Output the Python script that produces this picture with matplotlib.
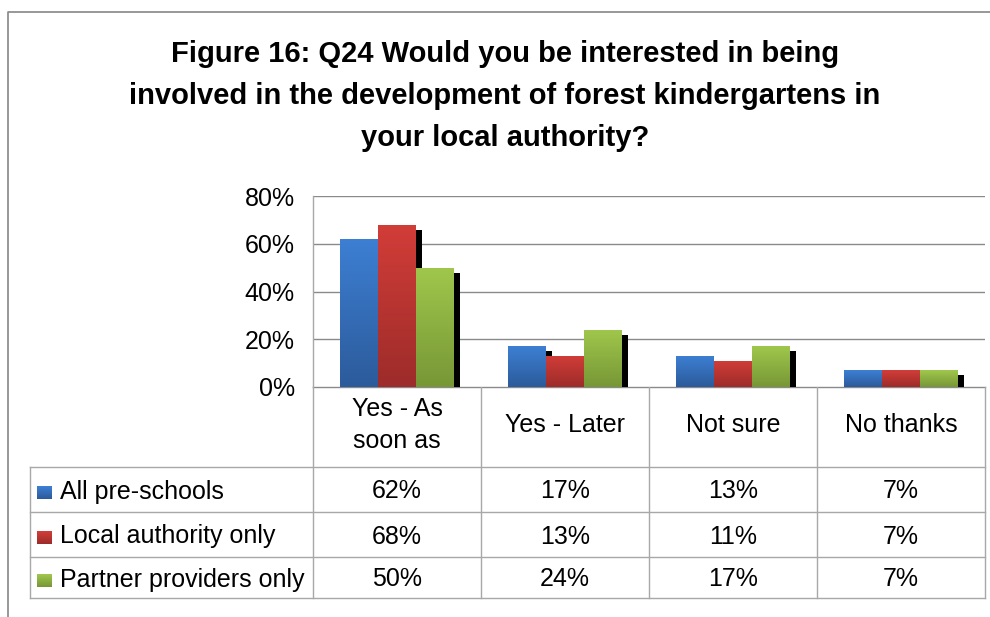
import matplotlib.pyplot as plt
import matplotlib.transforms as mtransforms
from matplotlib.colors import LinearSegmentedColormap
import numpy as np

plt.rcParams['font.family'] = ['Liberation Sans', 'DejaVu Sans']

TITLE_LINES = ['Figure 16: Q24 Would you be interested in being',
               'involved in the development of forest kindergartens in',
               'your local authority?']
CATEGORIES = ['Yes - As\nsoon as', 'Yes - Later', 'Not sure', 'No thanks']
SERIES = ['All pre-schools', 'Local authority only', 'Partner providers only']
ALL_PRESCHOOLS = [62, 17, 13, 7]
LA_ONLY = [68, 13, 11, 7]
PARTNER_ONLY = [50, 24, 17, 7]
Y_TICKS = [0, 20, 40, 60, 80]

# top / bottom colours for the bar gradients
GRADIENTS = [('#3d7fd3', '#2c5b9b'),
             ('#d23d38', '#9d2c2a'),
             ('#a0c74c', '#779736')]
GRID = '#8a8a8a'
LINE = '#a8a8a8'

W, H = 990, 617
fig = plt.figure(figsize=(W / 100, H / 100), dpi=100)

# pixel layout of the plot area and table
px_left, px_right, px_top, px_base = 313, 985, 196, 387
legend_left = 30
row_edges = [467, 512, 557, 598]


def fx(x):
    return x / W


def fy(y):
    return 1 - y / H


ax = fig.add_axes([fx(px_left), fy(px_base), fx(px_right - px_left),
                   (px_base - px_top) / H])
ax.set_xlim(0, len(CATEGORIES))
ax.set_ylim(0, 80)
for s in ['top', 'right', 'bottom']:
    ax.spines[s].set_visible(False)
ax.spines['left'].set_color(LINE)
ax.spines['left'].set_linewidth(1.0)
ax.set_yticks(Y_TICKS)
ax.set_yticklabels([f'{t}%' for t in Y_TICKS], fontsize=18)
ax.tick_params(axis='y', length=0, pad=13)
ax.set_xticks([])
for t in Y_TICKS:
    ax.axhline(t, color=GRID, linewidth=1.0, zorder=1)

bar_w = 0.226
x = np.arange(len(CATEGORIES)) + 0.5
values = [ALL_PRESCHOOLS, LA_ONLY, PARTNER_ONLY]
shadow = ax.transData + mtransforms.ScaledTranslation(0.06, -0.05, fig.dpi_scale_trans)

for i, vals in enumerate(values):
    pos = x + (i - 1) * bar_w
    ax.bar(pos, vals, width=bar_w, color='black', zorder=2, transform=shadow)

for i, vals in enumerate(values):
    pos = x + (i - 1) * bar_w
    top_c, bot_c = GRADIENTS[i]
    cmap = LinearSegmentedColormap.from_list(f'g{i}', [bot_c, top_c])
    bars = ax.bar(pos, vals, width=bar_w, color=top_c, zorder=3)
    for b in bars:
        x0, w, h = b.get_x(), b.get_width(), b.get_height()
        im = ax.imshow(np.linspace(1, 0, 64).reshape(-1, 1), cmap=cmap,
                       extent=[x0, x0 + w, 0, h], aspect='auto', zorder=4,
                       interpolation='bilinear')
        im.set_clip_path(b)
ax.set_xlim(0, len(CATEGORIES))
ax.set_ylim(0, 80)

# overlay for title, frame and data table, in pixel coordinates
ov = fig.add_axes([0, 0, 1, 1], zorder=-1)
ov.set_xlim(0, W)
ov.set_ylim(H, 0)
ov.axis('off')

ov.plot([8, 8, W], [H, 12, 12], color='#868686', linewidth=1.2)

for k, line in enumerate(TITLE_LINES):
    ov.text(505, 62 + 42 * k, line, ha='center', va='baseline',
            fontsize=21, fontweight='bold')

col_edges = np.linspace(px_left, px_right, len(CATEGORIES) + 1)
ov.plot([px_left, px_right], [px_base, px_base], color=GRID, linewidth=1.0)
for xe in col_edges:
    ov.plot([xe, xe], [px_base, row_edges[-1]], color=LINE, linewidth=1.0)
ov.plot([legend_left, legend_left], [row_edges[0], row_edges[-1]], color=LINE, linewidth=1.0)
for ye in row_edges:
    ov.plot([legend_left, px_right], [ye, ye], color=LINE, linewidth=1.0)

col_centers = (col_edges[:-1] + col_edges[1:]) / 2
for cx, cat in zip(col_centers, CATEGORIES):
    ov.text(cx, (px_base + row_edges[0]) / 2 - 2, cat, ha='center', va='center',
            fontsize=18, linespacing=1.45)

for r, (name, vals) in enumerate(zip(SERIES, values)):
    cy = (row_edges[r] + row_edges[r + 1]) / 2
    top_c, bot_c = GRADIENTS[r]
    cmap = LinearSegmentedColormap.from_list(f'l{r}', [top_c, bot_c])
    ov.imshow(np.linspace(0, 1, 16).reshape(-1, 1), cmap=cmap,
              extent=[37, 52, cy + 10, cy - 3], aspect='auto')
    ov.text(60, cy + 2, name, ha='left', va='center', fontsize=18)
    for cx, v in zip(col_centers, vals):
        ov.text(cx, cy + 2, f'{v}%', ha='center', va='center', fontsize=18)
ov.set_xlim(0, W)
ov.set_ylim(H, 0)

fig.savefig('out.png', dpi=100)
